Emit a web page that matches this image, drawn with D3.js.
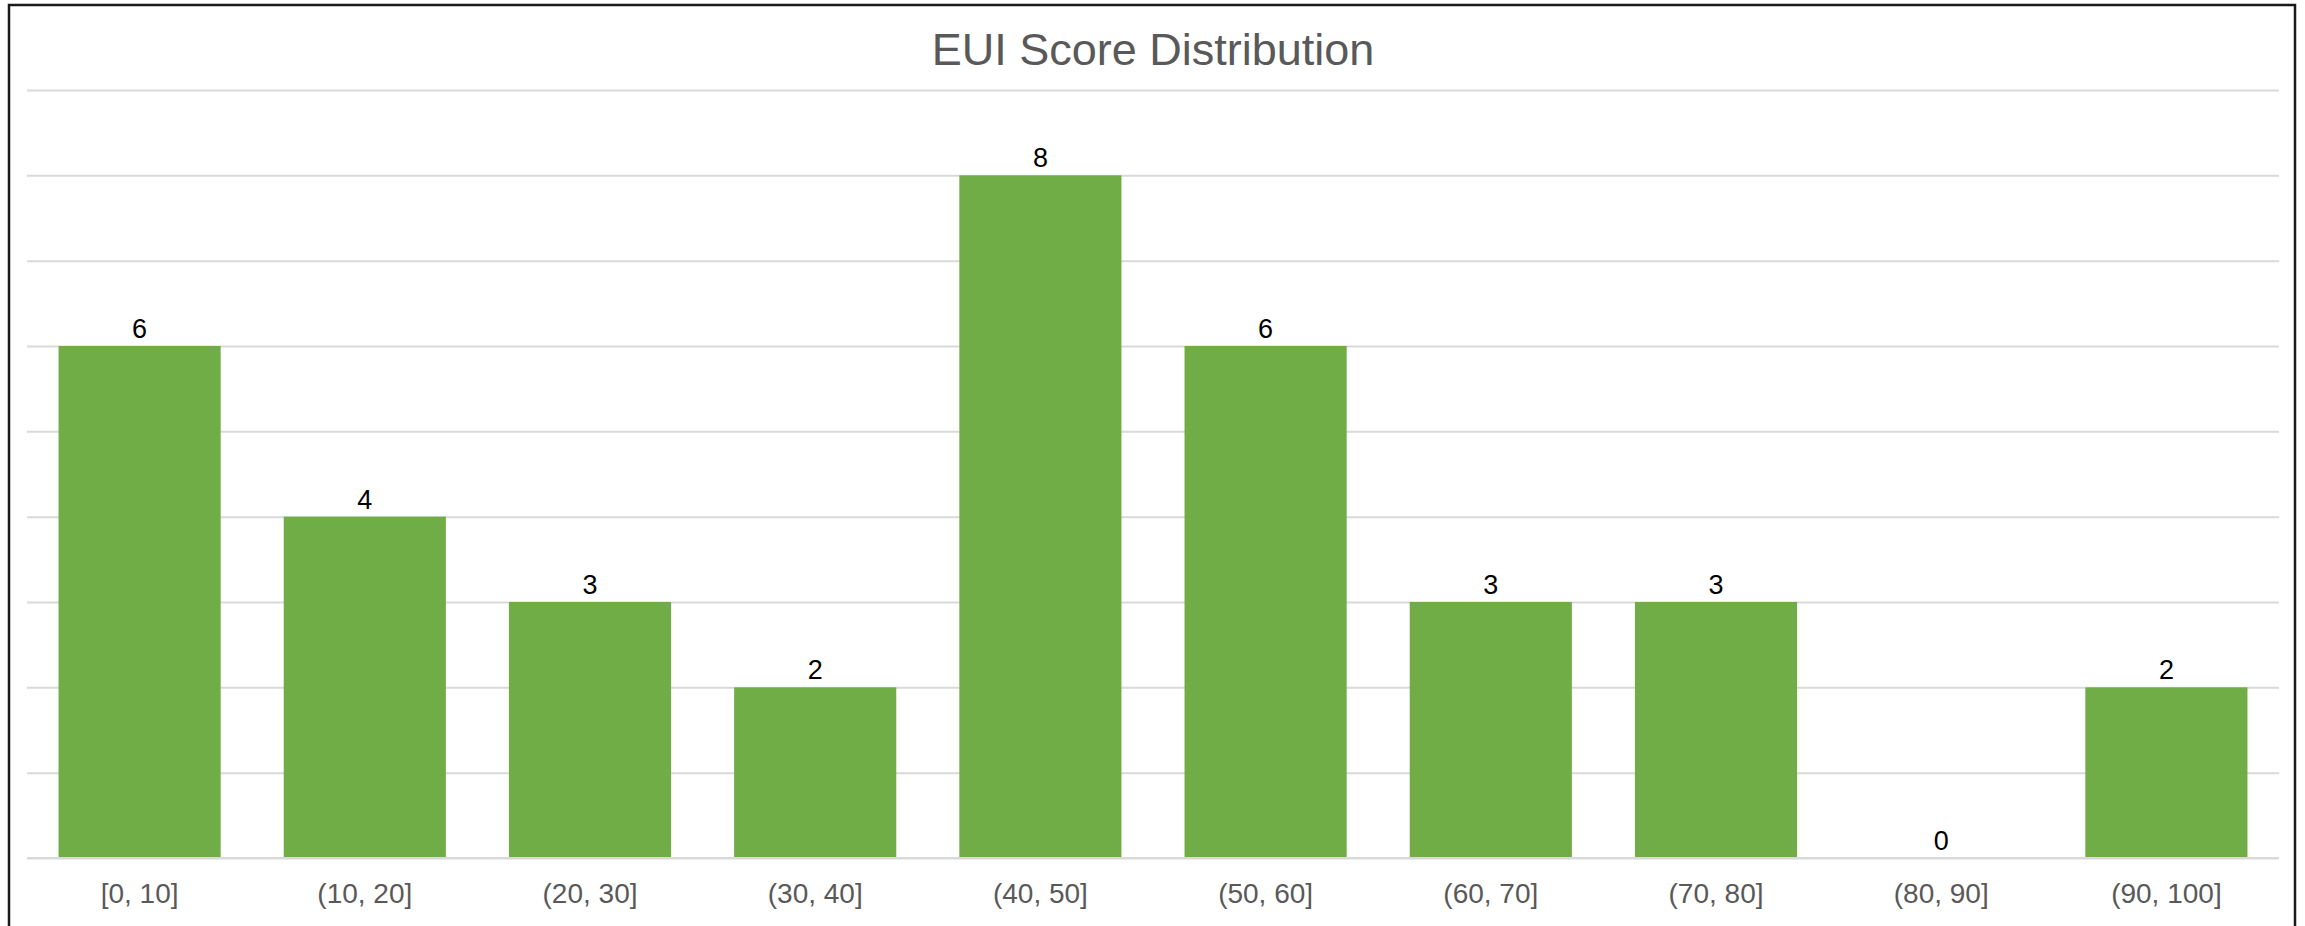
<!DOCTYPE html>
<html>
<head>
<meta charset="utf-8">
<script src="https://cdn.jsdelivr.net/npm/d3@7"></script>
<style>
  body { margin: 0; background: #fff; }
  text { font-family: "Liberation Sans", Arial, sans-serif; }
</style>
</head>
<body>
<div id="chart"></div>
<script>
// bins and counts
var categories = ["[0, 10]", "(10, 20]", "(20, 30]", "(30, 40]", "(40, 50]",
                  "(50, 60]", "(60, 70]", "(70, 80]", "(80, 90]", "(90, 100]"];
var counts = [6, 4, 3, 2, 8, 6, 3, 3, 0, 2];
var yTicks = [0, 1, 2, 3, 4, 5, 6, 7, 8, 9];
var title = "EUI Score Distribution";

var W = 2305, H = 926;
var margin = {top: 90, right: 26, bottom: 68, left: 27};
var width = W - margin.left - margin.right;
var height = H - margin.top - margin.bottom;

var svg = d3.select("#chart")
  .append("svg")
  .attr("width", W)
  .attr("height", H);

// chart frame (bottom edge runs past the picture)
svg.append("rect")
  .attr("x", 9)
  .attr("y", 5)
  .attr("width", 2286)
  .attr("height", 1000)
  .attr("fill", "none")
  .attr("stroke", "#1a1a1a")
  .attr("stroke-width", 2.5);

svg.append("text")
  .attr("x", margin.left + width / 2)
  .attr("y", 65)
  .attr("text-anchor", "middle")
  .style("font-size", "45px")
  .style("fill", "#595959")
  .text(title);

var g = svg.append("g")
  .attr("transform", "translate(" + margin.left + "," + margin.top + ")");

var x = d3.scaleBand()
  .domain(categories)
  .range([0, width])
  .paddingInner(0.28)
  .paddingOuter(0.14);

var y = d3.scaleLinear()
  .domain([0, d3.max(yTicks)])
  .range([height, 0]);

// gridlines
g.append("g")
  .call(d3.axisLeft(y).tickValues(yTicks).tickSize(-width).tickFormat(""))
  .call(function(a) {
    a.select(".domain").remove();
    a.selectAll("line").attr("stroke", "#d9d9d9").attr("stroke-width", 2);
  });

// bars
g.selectAll(".bar")
  .data(counts)
  .enter()
  .append("rect")
  .attr("class", "bar")
  .attr("x", function(d, i) { return x(categories[i]); })
  .attr("y", function(d) { return y(d); })
  .attr("width", x.bandwidth())
  .attr("height", function(d) { return height - y(d); })
  .attr("fill", "#70ad47");

// value labels
g.selectAll(".val")
  .data(counts)
  .enter()
  .append("text")
  .attr("class", "val")
  .attr("x", function(d, i) { return x(categories[i]) + x.bandwidth() / 2; })
  .attr("y", function(d) { return y(d) - 8; })
  .attr("text-anchor", "middle")
  .style("font-size", "27px")
  .style("fill", "#000")
  .text(function(d) { return d; });

// category axis
g.append("g")
  .attr("transform", "translate(0," + height + ")")
  .call(d3.axisBottom(x).tickSize(0).tickPadding(0))
  .call(function(a) {
    a.select(".domain").attr("stroke", "#d9d9d9").attr("stroke-width", 2)
      .attr("d", "M0,0H" + width);
    a.selectAll("text")
      .attr("dy", null)
      .attr("y", 45)
      .style("font-size", "28px")
      .style("font-family", "'Liberation Sans', Arial, sans-serif")
      .style("fill", "#595959");
  });
</script>
</body>
</html>
